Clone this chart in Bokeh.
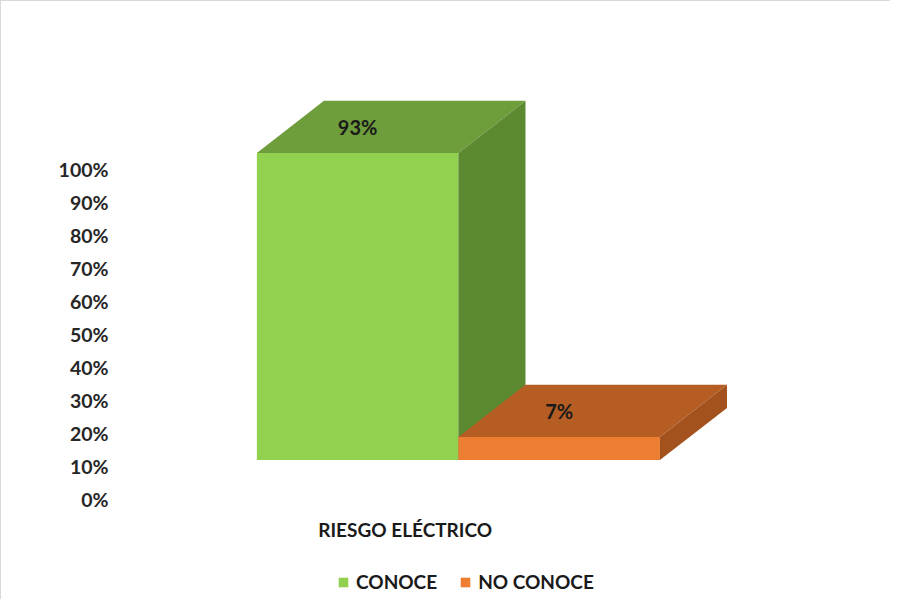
from bokeh.plotting import figure
from bokeh.models import (Range1d, LinearAxis, FixedTicker, Legend, LegendItem,
                          ColumnDataSource, PrintfTickFormatter, Label)
from bokeh.embed import file_html
from bokeh.resources import INLINE
from bokeh.core.properties import value

# ---------------- data ----------------
categories = ["CONOCE", "NO CONOCE"]
percentages = [93, 7]
axis_ticks = [0, 10, 20, 30, 40, 50, 60, 70, 80, 90, 100]
category_title = "RIESGO ELÉCTRICO"

# ---------------- style ----------------
front_colors = ["#92d050", "#ed7d31"]
top_colors = ["#6e9d3c", "#b55d23"]
side_colors = ["#5c8a31", "#a3521d"]
FONT = "Lato"
DEPTH_X = 0.333   # 3D depth offset (category units)
DEPTH_Y = 15.8    # 3D depth offset (percent units)
AXIS_SHIFT = 12.0 # back-wall axis offset (percent units)

W, H = 890, 599
LEFT = 117
y0, y1 = -42.55, 138.9
p = figure(width=W, height=H, output_backend="svg", toolbar_location=None,
           x_range=Range1d(-1.1866, 2.6493), y_range=Range1d(y0, y1),
           x_axis_location=None, y_axis_location=None,
           min_border_left=LEFT, min_border_right=0, min_border_top=0, min_border_bottom=0,
           background_fill_color="white", border_fill_color="white")
p.outline_line_color = None
p.grid.visible = False
p.styles = {"border-top": "1px solid #d9d9d9", "border-left": "1px solid #d9d9d9"}

p.extra_y_ranges = {"axis": Range1d(y0 + AXIS_SHIFT, y1 + AXIS_SHIFT)}
yaxis = LinearAxis(y_range_name="axis", ticker=FixedTicker(ticks=axis_ticks),
                   formatter=PrintfTickFormatter(format="%d%%"))
yaxis.axis_line_color = None
yaxis.major_tick_line_color = None
yaxis.minor_tick_line_color = None
yaxis.major_label_standoff = 4
yaxis.major_label_text_font = FONT
yaxis.major_label_text_font_style = "bold"
yaxis.major_label_text_font_size = "19.5px"
yaxis.major_label_text_color = "#262626"
p.add_layout(yaxis, "left")

front_renderers = []
for i, (cat, v) in enumerate(zip(categories, percentages)):
    xl, xr = i - 0.5, i + 0.5
    fr = p.quad(left=[xl], right=[xr], bottom=[0], top=[v],
                fill_color=front_colors[i], line_color=None)
    front_renderers.append(fr)
    p.patch(x=[xl, xr, xr + DEPTH_X, xl + DEPTH_X],
            y=[v, v, v + DEPTH_Y, v + DEPTH_Y],
            fill_color=top_colors[i], line_color=None)
    p.patch(x=[xr, xr, xr + DEPTH_X, xr + DEPTH_X],
            y=[0, v, v + DEPTH_Y, DEPTH_Y],
            fill_color=side_colors[i], line_color=None)

src = ColumnDataSource(dict(
    x=list(range(len(categories))),
    y=[v + DEPTH_Y / 2 for v in percentages],
    t=[f"{v}%" for v in percentages]))
p.text(x="x", y="y", text="t", source=src, text_font=value(FONT),
       text_font_style="bold", text_font_size="20px", text_color="#1a1a1a",
       text_align="center", text_baseline="middle")

p.add_layout(Label(x=0.236, y=-21.0, text=category_title, text_font=FONT,
                   text_font_style="bold", text_font_size="19px",
                   text_color="#1a1a1a", text_align="center",
                   text_baseline="middle"))

legend = Legend(items=[LegendItem(label=c, renderers=[r])
                       for c, r in zip(categories, front_renderers)],
                orientation="horizontal", location=(219, 7),
                glyph_width=12, glyph_height=12, label_standoff=7,
                spacing=22, padding=2, margin=0,
                label_text_font=FONT, label_text_font_style="bold",
                label_text_font_size="19px", label_text_color="#1a1a1a",
                background_fill_alpha=0, border_line_color=None)
p.add_layout(legend, "center")

open("out.html", "w").write(file_html(p, INLINE))
